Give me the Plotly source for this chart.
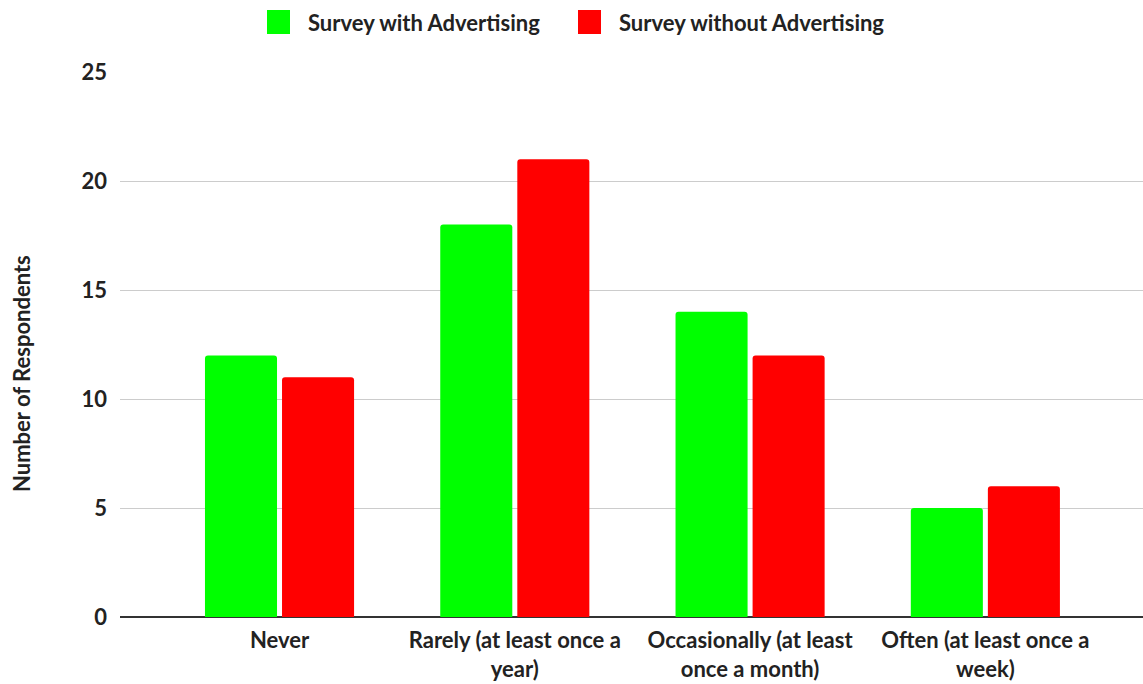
import plotly.graph_objects as go

categories = [
    "Never",
    "Rarely (at least once a<br>year)",
    "Occasionally (at least<br>once a month)",
    "Often (at least once a<br>week)",
]
with_ads = [12, 18, 14, 5]
without_ads = [11, 21, 12, 6]
y_ticks = [0, 5, 10, 15, 20, 25]
series_names = ["Survey with Advertising", "Survey without Advertising"]

GREEN = "#00ff00"
RED = "#ff0000"
FONT = "Lato"
TEXT = "#222222"

# pixel geometry of the plotting area (used to place the legend and axis title)
W, H = 1143, 684
L, R, T, B = 120, 0, 72, 67
PW, PH = W - L - R, H - T - B


def px_x(x):
    return (x - L) / PW


def px_y(y):
    return (H - B - y) / PH


fig = go.Figure()
fig.add_trace(go.Bar(name=series_names[0], x=categories, y=with_ads,
                     marker=dict(color=GREEN, line=dict(width=0))))
fig.add_trace(go.Bar(name=series_names[1], x=categories, y=without_ads,
                     marker=dict(color=RED, line=dict(width=0))))

fig.update_layout(
    width=W, height=H,
    margin=dict(l=L, r=R, t=T, b=B),
    paper_bgcolor="white", plot_bgcolor="white",
    barmode="group", bargap=0.345, bargroupgap=0.065, barcornerradius=3,
    font=dict(family=FONT, size=22, color=TEXT, weight=700),
    showlegend=False,
)

# legend: coloured squares followed by series names
legend_items = [(GREEN, 267, 306), (RED, 578, 617)]
for (color, sx, tx), name in zip(legend_items, series_names):
    fig.add_shape(type="rect", xref="paper", yref="paper",
                  x0=px_x(sx), x1=px_x(sx + 23), y0=px_y(34), y1=px_y(10),
                  fillcolor=color, line=dict(width=0), layer="above")
    fig.add_annotation(xref="paper", yref="paper", x=px_x(tx), y=px_y(22),
                       xanchor="left", yanchor="middle", showarrow=False,
                       text=name, font=dict(family=FONT, size=22, weight=700, color=TEXT))

# vertical axis title
fig.add_annotation(xref="paper", yref="paper", x=px_x(22), y=px_y(374),
                   xanchor="center", yanchor="middle", showarrow=False,
                   textangle=-90, text="Number of Respondents",
                   font=dict(family=FONT, size=22, weight=700, color=TEXT))

fig.update_xaxes(
    range=[-0.678, 3.67], showgrid=False, showline=False, ticks="",
    ticklabelstandoff=8,
    tickfont=dict(size=22, family=FONT, weight=700, color=TEXT),
)
fig.update_yaxes(
    range=[0, 25], tickvals=y_ticks, showgrid=True, gridcolor="#cccccc", gridwidth=1,
    zeroline=True, zerolinecolor="#333333", zerolinewidth=2,
    showline=False, ticks="", ticklabelstandoff=12,
    tickfont=dict(size=22, family=FONT, weight=700, color=TEXT),
)

fig.write_html("out.html")
